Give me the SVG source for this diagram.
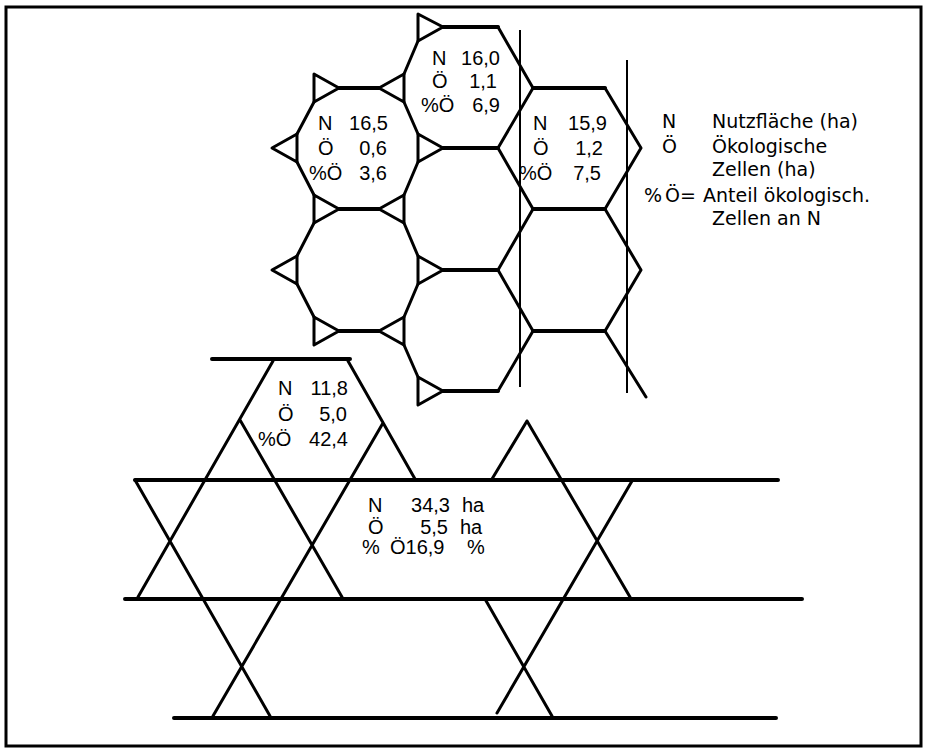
<svg xmlns="http://www.w3.org/2000/svg" width="927" height="749" viewBox="0 0 927 749">
<style>
.e{fill:none;stroke:#000;stroke-width:3;stroke-linecap:round;stroke-linejoin:round}
.h{fill:none;stroke:#000;stroke-width:4;stroke-linecap:round}
.t{fill:none;stroke:#000;stroke-width:3;stroke-linejoin:round}
.v{fill:none;stroke:#000;stroke-width:2}
.c{font-family:"Liberation Sans",Arial,sans-serif;font-size:20px;fill:#000}
.l{font-family:"DejaVu Sans",sans-serif;font-size:19px;fill:#000}
</style>
<rect id="frame" x="6" y="7" width="915" height="739" fill="none" stroke="#000" stroke-width="3"/>
<g id="connectors">
  <g id="honeycomb-horizontal">
    <path class="h" d="M339 88H379M339 209H379M339 331H379M443 27H498M443 148H498M443 270H498M443 391H498M533 88H605M533 209H605M533 331H605"/>
  </g>
  <g id="honeycomb-slanted">
    <path class="e" d="M297 134L314 102M297 162L314 195M297 256L314 223M297 284L314 317
      M404 74L418 41M404 102L418 134M404 195L418 162M404 223L418 256M404 317L418 284M404 345L418 377
      M498 27L533 88L498 148L533 209L498 270L533 331L498 391
      M605 88L641 148L605 209L641 270L605 331L646 397"/>
  </g>
  <g id="verticals">
    <path class="v" d="M520 30V387M627 60V393"/>
  </g>
  <g id="lower-pattern">
    <path class="h" d="M212 359H350M135 480H778M125 599H802M174 718H776"/>
    <path class="e" d="M273 361L138 597M348 361L415 479M240 420L342 597M383 423L213 716M135 480L270 716
      M527 421L630 597M527 421L492 479M632 481L497 713M485 599L552 716"/>
  </g>
</g>
<g id="triangles">
  <polygon class="t" points="297,134 272,148 297,162"/>
  <polygon class="t" points="297,256 272,270 297,284"/>
  <polygon class="t" points="404,74 379,88 404,102"/>
  <polygon class="t" points="404,195 379,209 404,223"/>
  <polygon class="t" points="404,317 379,331 404,345"/>
  <polygon class="t" points="314,74 339,88 314,102"/>
  <polygon class="t" points="314,195 339,209 314,223"/>
  <polygon class="t" points="314,317 339,331 314,345"/>
  <polygon class="t" points="418,134 443,148 418,162"/>
  <polygon class="t" points="418,256 443,270 418,284"/>
  <polygon class="t" points="418,14 443,27 418,41"/>
  <polygon class="t" points="418,377 443,391 418,405"/>
</g>
<g id="cell-16-5">
  <text class="c" x="318" y="130">N</text><text class="c" x="388" y="130" text-anchor="end">16,5</text>
  <text class="c" x="318" y="155">Ö</text><text class="c" x="387" y="155" text-anchor="end">0,6</text>
  <text class="c" x="309" y="180">%Ö</text><text class="c" x="387" y="180" text-anchor="end">3,6</text>
</g>
<g id="cell-16-0">
  <text class="c" x="432" y="65">N</text><text class="c" x="500" y="65" text-anchor="end">16,0</text>
  <text class="c" x="432" y="88">Ö</text><text class="c" x="497" y="88" text-anchor="end">1,1</text>
  <text class="c" x="421" y="112">%Ö</text><text class="c" x="500" y="112" text-anchor="end">6,9</text>
</g>
<g id="cell-15-9">
  <text class="c" x="533" y="130">N</text><text class="c" x="607" y="130" text-anchor="end">15,9</text>
  <text class="c" x="533" y="155">Ö</text><text class="c" x="603" y="155" text-anchor="end">1,2</text>
  <text class="c" x="519" y="180">%Ö</text><text class="c" x="601" y="180" text-anchor="end">7,5</text>
</g>
<g id="cell-11-8">
  <text class="c" x="278" y="395">N</text><text class="c" x="348" y="395" text-anchor="end">11,8</text>
  <text class="c" x="278" y="421">Ö</text><text class="c" x="347" y="421" text-anchor="end">5,0</text>
  <text class="c" x="258" y="446">%Ö</text><text class="c" x="348" y="446" text-anchor="end">42,4</text>
</g>
<g id="cell-total">
  <text class="c" x="368" y="512">N</text><text class="c" x="450" y="512" text-anchor="end">34,3</text><text class="c" x="462" y="512">ha</text>
  <text class="c" x="368" y="534">Ö</text><text class="c" x="448" y="534" text-anchor="end">5,5</text><text class="c" x="460" y="534">ha</text>
  <text class="c" x="362" y="554">%</text><text class="c" x="390" y="554">Ö16,9</text><text class="c" x="467" y="554">%</text>
</g>
<g id="legend">
  <text class="l" x="662" y="128">N</text><text class="l" x="712" y="128">Nutzfläche (ha)</text>
  <text class="l" x="662" y="153">Ö</text><text class="l" x="712" y="153">Ökologische</text>
  <text class="l" x="712" y="176">Zellen (ha)</text>
  <text class="l" x="644" y="202">%</text><text class="l" x="665" y="202">Ö=</text><text class="l" x="703" y="202">Anteil ökologisch.</text>
  <text class="l" x="712" y="225">Zellen an N</text>
</g>
</svg>
